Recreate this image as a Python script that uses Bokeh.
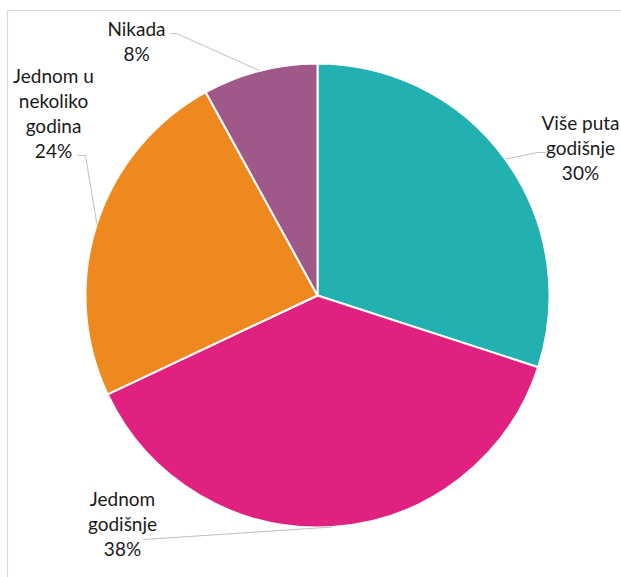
import math
from bokeh.plotting import figure
from bokeh.models import Range1d, ColumnDataSource
from bokeh.core.properties import value
from bokeh.embed import file_html
from bokeh.resources import INLINE

# ---- data ----
categories = ["Više puta\ngodišnje", "Jednom\ngodišnje", "Jednom u\nnekoliko\ngodina", "Nikada"]
percents = [30, 38, 24, 8]
colors = ["#23B0B1", "#E0217F", "#EE8920", "#9E5988"]

# ---- layout (page pixel coords) ----
W, H = 621, 577
CX, CY, R = 317, 295, 232
label_pos = [(580, 147), (122, 523), (53, 112), (136, 40)]
elbow = [(537, 152), (143, 539), (85, 155), (176, 33)]
label_end = [(545, 152), (143, 539), (77, 155), (170, 33)]
LINE_H = 25

def Y(py):
    return H - py

p = figure(width=W, height=H, x_range=Range1d(0, W), y_range=Range1d(0, H),
           output_backend="svg", toolbar_location=None, min_border=0)
p.axis.visible = False
p.grid.visible = False
p.outline_line_color = None
p.background_fill_color = "white"

# chart frame
p.quad(left=7, right=700, top=Y(10), bottom=-100, fill_color=None,
       line_color="#D9D9D9", line_width=1.2)

total = sum(percents)
starts, ends, mids = [], [], []
cum = 0.0
for v in percents:
    a_end = math.pi / 2 - 2 * math.pi * cum / total
    cum += v
    a_start = math.pi / 2 - 2 * math.pi * cum / total
    starts.append(a_start)
    ends.append(a_end)
    mids.append((a_start + a_end) / 2)

src = ColumnDataSource(dict(start=starts, end=ends, color=colors))
p.wedge(x=CX, y=Y(CY), radius=R, start_angle="start", end_angle="end",
        direction="anticlock", fill_color="color", line_color="white",
        line_width=2, source=src)

# leader lines
for i, m in enumerate(mids):
    ex = CX + R * math.cos(m)
    ey = Y(CY) + R * math.sin(m)
    xs = [ex, elbow[i][0], label_end[i][0]]
    ys = [ey, Y(elbow[i][1]), Y(label_end[i][1])]
    p.line(xs, ys, line_color="#BFBFBF", line_width=1)

# labels
tx, ty, tt = [], [], []
for i, (cat, v) in enumerate(zip(categories, percents)):
    lines = cat.split("\n") + [f"{v}%"]
    n = len(lines)
    cx, cy = label_pos[i]
    for k, ln in enumerate(lines):
        tx.append(cx)
        ty.append(Y(cy + (k - (n - 1) / 2) * LINE_H))
        tt.append(ln)
p.text(x=tx, y=ty, text=tt, text_align="center", text_baseline="middle",
       text_font=value("Lato"), text_font_size="19px", text_color="#1a1a1a")

open("out.html", "w").write(file_html(p, INLINE))
